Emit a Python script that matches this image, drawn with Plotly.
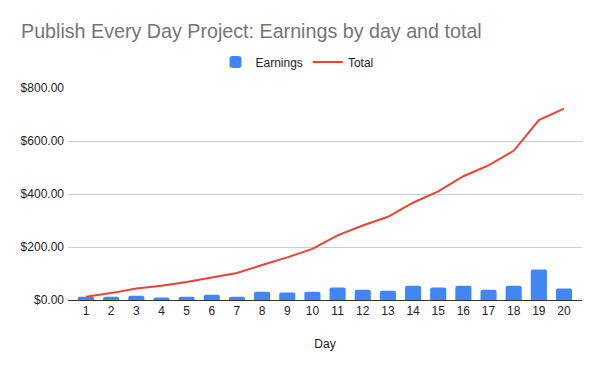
import plotly.graph_objects as go

days = [str(d) for d in range(1, 21)]
earnings = [12, 12, 16, 9, 12, 20, 12, 31, 28, 31, 47, 39, 35, 54, 47, 54, 39, 54, 115, 43]
total = [12, 26, 43, 54, 68, 86, 102, 132, 161, 193, 244, 281, 314, 367, 410, 467, 508, 563, 679, 722]
y_ticks = [0, 200, 400, 600, 800]
y_tick_labels = ["$0.00", "$200.00", "$400.00", "$600.00", "$800.00"]

FONT = "Arial, 'Liberation Sans', sans-serif"

fig = go.Figure()
fig.add_trace(go.Bar(x=days, y=earnings, name="Earnings",
                     marker=dict(color="#4285F4", cornerradius=2, line=dict(width=0))))
fig.add_trace(go.Scatter(x=days, y=total, name="Total", mode="lines",
                         line=dict(color="#EA4335", width=2)))

fig.update_layout(
    width=600, height=371,
    paper_bgcolor="white", plot_bgcolor="white",
    font=dict(family=FONT, size=12, color="#222222"),
    title=dict(text="Publish Every Day Project: Earnings by day and total",
               x=0.035, xanchor="left", y=0.915, yanchor="middle",
               font=dict(family=FONT, size=19.7, color="#757575")),
    margin=dict(l=68, r=18, t=88, b=71, autoexpand=False),
    bargap=0.36,
    showlegend=True,
    legend=dict(orientation="h", xref="container", x=0.495, xanchor="center",
                y=1.1226, yanchor="middle", font=dict(family=FONT, size=12, color="#222222")),
    xaxis=dict(type="category", range=[-0.715, 19.715], showgrid=False, showline=True,
               linecolor="#333333", linewidth=1, ticks="", automargin=False,
               title=dict(text="Day", standoff=22, font=dict(size=12, color="#222222"))),
    yaxis=dict(range=[0, 800], tickvals=y_ticks, ticktext=y_tick_labels, automargin=False,
               showgrid=True, gridcolor="#cccccc", gridwidth=1, zeroline=False,
               showline=False, ticks="", ticklabelstandoff=3),
)

fig.write_html("out.html", config={"displayModeBar": False},
               post_script="document.body.style.margin='0';")
